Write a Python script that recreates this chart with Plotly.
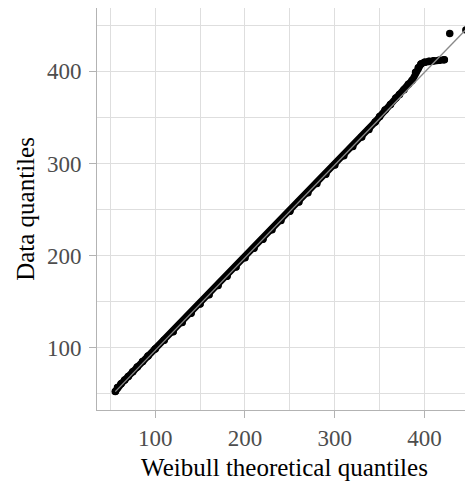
import plotly.graph_objects as go

# Weibull theoretical quantiles (x) vs data quantiles (y)
theoretical = [55.6, 58, 62, 66, 70, 75, 80, 86, 92, 100, 110, 120, 130, 140, 150,
               160, 170, 180, 190, 200, 210, 220, 230, 240, 250, 260, 270, 280, 290,
               300, 310, 320, 330, 338, 345, 350, 356, 362, 368, 372, 377, 382, 386,
               390, 393, 396, 400, 405, 410, 416, 422, 428, 446]
sample = [52.3, 56.7, 60.7, 64.8, 68.8, 73.8, 78.9, 84.9, 91, 98.5, 108, 117.3, 127.2,
          137.3, 147.4, 157.4, 167.5, 177.6, 187.6, 197.7, 207.8, 217.8, 227.9, 238,
          248.1, 258.1, 268.2, 278.3, 288.3, 298.4, 308.5, 318.5, 328.6, 337, 345,
          351, 358, 364, 371, 375, 380, 386, 390, 399, 404, 408, 410, 411, 411.5,
          412, 412.5, 441, 445]
n_outliers = 2  # isolated points at the top

# reference (qq) line
line_slope = 1.007
line_intercept = -3.7

x_ticks = [100, 200, 300, 400]
y_ticks = [100, 200, 300, 400]
x_title = "Weibull theoretical quantiles"
y_title = "Data quantiles"

FONT = "Liberation Serif"
GRID = "#dedede"
BORDER = "#b3b3b3"

fig = go.Figure()
band_x = theoretical[:-n_outliers]
band_y = sample[:-n_outliers]
fig.add_trace(go.Scatter(x=band_x, y=band_y, mode="lines+markers",
                         line=dict(color="black", width=7),
                         marker=dict(color="black", size=7, line=dict(width=0)),
                         hoverinfo="skip", showlegend=False))
fig.add_trace(go.Scatter(x=theoretical, y=sample, mode="markers",
                         marker=dict(color="black", size=7.5, line=dict(width=0)),
                         showlegend=False))
lx = [min(theoretical), max(theoretical)]
ly = [line_slope * v + line_intercept for v in lx]
fig.add_trace(go.Scatter(x=lx, y=ly, mode="lines",
                         line=dict(color="#8a8a8a", width=1.3),
                         hoverinfo="skip", showlegend=False))

# the page body adds an 8px offset, so the figure is 8px smaller
fig.update_layout(
    width=465, height=473,
    margin=dict(l=89, r=1, t=0, b=71),
    paper_bgcolor="white", plot_bgcolor="white",
    font=dict(family=FONT, color="black"),
)
fig.update_xaxes(
    range=[35.2, 452.8], tickvals=x_ticks, ticktext=[str(v) for v in x_ticks],
    automargin=False,
    showgrid=True, gridcolor=GRID, gridwidth=1,
    minor=dict(showgrid=True, gridcolor=GRID, gridwidth=0.8, tick0=0, dtick=50),
    showline=True, linecolor=BORDER, linewidth=1, mirror=True,
    ticks="outside", ticklen=7, tickcolor=BORDER, tickwidth=1,
    tickfont=dict(family=FONT, size=23, color="#4d4d4d"),
    title=dict(text=x_title, font=dict(family=FONT, size=25, color="black"), standoff=8),
    zeroline=False,
)
fig.update_yaxes(
    range=[32.3, 468.8], tickvals=y_ticks, ticktext=[str(v) for v in y_ticks],
    automargin=False, ticklabelstandoff=3,
    showgrid=True, gridcolor=GRID, gridwidth=1,
    minor=dict(showgrid=True, gridcolor=GRID, gridwidth=0.8, tick0=0, dtick=50),
    showline=True, linecolor=BORDER, linewidth=1, mirror=False,
    ticks="outside", ticklen=7, tickcolor=BORDER, tickwidth=1,
    tickfont=dict(family=FONT, size=23, color="#4d4d4d"),
    title=dict(text=y_title, font=dict(family=FONT, size=25, color="black"), standoff=5),
    zeroline=False,
)

fig.write_html("out.html")
